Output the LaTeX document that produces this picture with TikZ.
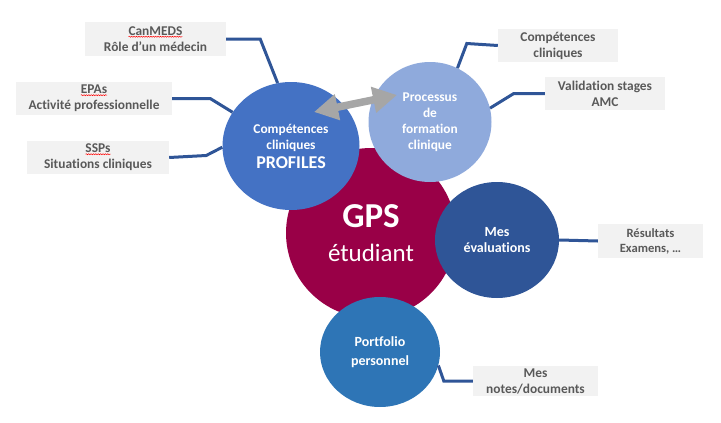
\documentclass[tikz,border=0pt]{standalone}
\usepackage{fontspec}
\setmainfont{Carlito}[Ligatures={NoCommon}]
\usepackage{tikz}
\usetikzlibrary{positioning,arrows.meta,shapes.geometric,decorations.pathmorphing}
\definecolor{labelgray}{RGB}{89,89,89}
\definecolor{boxgray}{RGB}{242,242,242}
\definecolor{arrowgray}{RGB}{166,166,166}
\definecolor{linkblue}{RGB}{47,85,151}
\definecolor{profileblue}{RGB}{68,114,196}
\definecolor{processblue}{RGB}{143,170,220}
\definecolor{gpsred}{RGB}{153,0,71}
\definecolor{evalblue}{RGB}{47,85,151}
\definecolor{portfolioblue}{RGB}{46,117,182}
\newcommand{\spellwave}[1]{\tikz[baseline=(sw.base)]{\node[shape=rectangle, inner sep=0pt, outer sep=0pt, minimum width=0pt, minimum height=0pt, fill=none, draw=none, text=labelgray] (sw) {#1};\draw[red, fill=none, line width=0.5pt, decorate, decoration={snake, amplitude=0.5pt, segment length=2.4pt}] ([yshift=-1.3pt]sw.south west) -- ([yshift=-1.3pt]sw.south east);}}

\begin{document}
\begin{tikzpicture}[
  x=1pt, y=-1pt,
  box/.style={rectangle, fill=boxgray, text=labelgray, align=center, inner sep=0pt, font=\fontsize{13.4}{16}\selectfont\bfseries},
  bubble/.style={ellipse, inner sep=0pt, text=white, align=center, font=\fontsize{13.4}{16}\selectfont\bfseries},
  link/.style={draw=linkblue, line width=3pt},
  arrow/.style={{Triangle[length=24pt,width=25pt]}-{Triangle[length=24pt,width=25pt]}, draw=arrowgray, line width=7.5pt}
]
\useasboundingbox (0,0) rectangle (721,423);

% Bubbles
\node[bubble, fill=gpsred, minimum size=170pt, font=\fontsize{25}{34}\selectfont] (gps) at (371,233) {{\fontsize{35}{34}\selectfont\bfseries GPS}\\étudiant};
\node[bubble, fill=profileblue, minimum width=137pt, minimum height=128pt] (profiles) at (291,146) {Compétences\\cliniques\\[3pt]{\fontsize{18}{20}\selectfont PROFILES}};
\node[bubble, fill=processblue, minimum width=123pt, minimum height=120pt] (processus) at (430,122) {Processus\\de\\formation\\clinique};
\node[bubble, fill=evalblue, minimum width=124pt, minimum height=116pt, font=\fontsize{14}{16}\selectfont\bfseries] (evaluations) at (497,240) {Mes\\évaluations};
\node[bubble, fill=portfolioblue, minimum width=120pt, minimum height=110pt, font=\fontsize{14}{19}\selectfont\bfseries] (portfolio) at (380,352) {Portfolio\\personnel};

% Boxes
\node[box, minimum width=141pt, minimum height=34pt] (canmeds) at (155.5,39) {\spellwave{CanMEDS}\\Rôle d’un médecin};
\node[box, minimum width=156pt, minimum height=33pt] (epas) at (94,98.5) {\spellwave{EPAs}\\Activité professionnelle};
\node[box, minimum width=142pt, minimum height=33pt] (ssps) at (98,157.5) {\spellwave{SSPs}\\Situations cliniques};
\node[box, minimum width=120pt, minimum height=33pt] (competences) at (558,45.5) {Compétences\\cliniques};
\node[box, minimum width=120pt, minimum height=33pt] (validation) at (605,93.5) {Validation stages\\AMC};
\node[box, minimum width=105pt, minimum height=34pt, font=\fontsize{12.6}{15}\selectfont\bfseries] (resultats) at (650.5,241) {Résultats\\Examens, …};
\node[box, minimum width=125pt, minimum height=30pt] (notes) at (535.5,381) {Mes\\notes/documents};

% Links
\draw[link] (canmeds.east) -- ++(34,0) -- (profiles.102);
\draw[link] (epas.east) -- ++(38,0) -- (profiles.150);
\draw[link] (ssps.east) -- ++(37,-2) -- (profiles.181);
\draw[link] (competences.west) -- ++(-31,-2) -- (processus.63);
\draw[link] (validation.west) -- ++(-31,0) -- (processus.13);
\draw[link] (evaluations.east) -- (resultats.west);
\draw[link] (notes.west) -- ++(-29,0) -- (portfolio.-13);

% Double arrow
\coordinate (arrowL) at (314,112);
\coordinate (arrowR) at (397,95);
\draw[arrow] (arrowL) -- (arrowR);

\end{tikzpicture}
\end{document}
